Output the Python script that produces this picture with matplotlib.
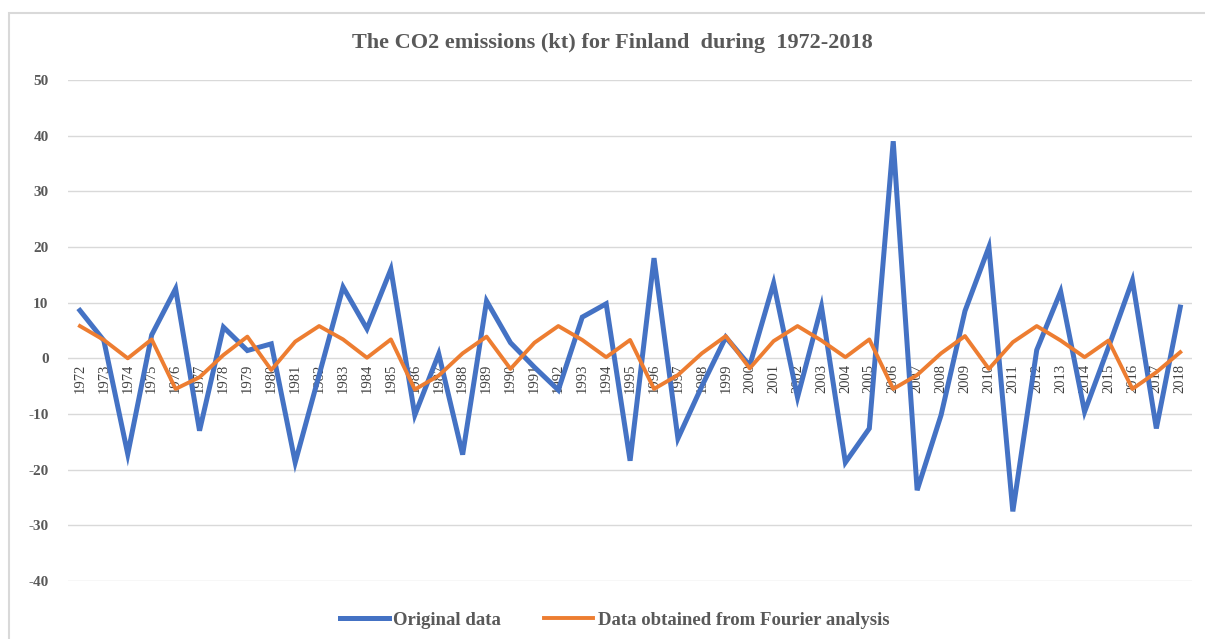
import matplotlib.pyplot as plt
from matplotlib.patches import Rectangle
from matplotlib.transforms import offset_copy

plt.rcParams['font.family'] = ['Liberation Serif', 'DejaVu Serif']
plt.rcParams['axes.unicode_minus'] = False

years = list(range(1972, 2019))

# annual CO2 emission changes (kt)
original = [8.6, 3.2, -17.2, 4.2, 12.5, -13.0, 5.6, 1.4, 2.6, -18.7,
            -3.0, 12.8, 5.3, 16.0, -10.2, 0.8, -17.3, 10.3, 2.8, -1.6,
            -5.7, 7.4, 9.8, -18.4, 18.0, -14.4, -5.0, 3.8, -1.3, 13.5,
            -7.0, 9.3, -18.7, -12.6, 39.0, -23.7, -10.2, 8.5, 20.0, -27.5,
            1.5, 12.0, -9.6, 2.0, 14.0, -12.6, 9.2]

fourier = [5.8, 3.3, 0.0, 3.4, -5.5, -3.4, 0.6, 3.9, -2.1, 3.0,
           5.8, 3.4, 0.1, 3.4, -5.6, -3.1, 0.9, 3.9, -1.9, 2.8,
           5.8, 3.3, 0.2, 3.3, -5.5, -3.0, 0.9, 4.0, -1.8, 3.1,
           5.8, 3.2, 0.2, 3.4, -5.5, -3.0, 0.9, 4.0, -1.9, 2.9,
           5.8, 3.2, 0.2, 3.2, -5.5, -2.5, 1.1]

yticks = list(range(-40, 51, 10))

gray = '#595959'

fig = plt.figure(figsize=(12.05, 6.39), dpi=100)
ax = fig.add_axes([0.0564, 0.0908, 0.933, 0.784])

# outer chart frame
fig.patches.append(Rectangle((9 / 1205, -0.05), 1.1, 1 - 13 / 639 + 0.05,
                             transform=fig.transFigure, fill=False,
                             edgecolor='#d9d9d9', linewidth=1.5))

xs = list(range(len(years)))
ax.plot(xs, original, color='#4472C4', linewidth=3.6, label='Original data',
        solid_joinstyle='miter', zorder=3)
ax.plot(xs, fourier, color='#ED7D31', linewidth=2.8,
        label='Data obtained from Fourier analysis', zorder=4)

ax.set_xlim(-0.5, len(years) - 0.5)
ax.set_ylim(-40, 50)
ax.set_yticks(yticks)
ax.set_xticks([])
ax.grid(axis='y', color='#d9d9d9', linewidth=1.0)
ax.set_axisbelow(True)
for s in ax.spines.values():
    s.set_visible(False)
ax.tick_params(axis='y', length=0, pad=14, labelsize=11, labelcolor=gray)
for t in ax.get_yticklabels():
    t.set_fontweight('bold')

# year labels hang below the zero line
trans = offset_copy(ax.transData, fig=fig, x=0, y=-4, units='points')
for x, yr in zip(xs, years):
    ax.text(x, 0, str(yr), rotation=90, ha='center', va='top',
            fontsize=10.5, color='#404040', transform=trans, zorder=2)

fig.text(0.508, 0.932, 'The CO2 emissions (kt) for Finland  during  1972-2018',
         ha='center', va='center', fontsize=16, fontweight='bold', color=gray)

leg = fig.legend(loc='center', bbox_to_anchor=(0.51, 0.029), ncol=2,
                 frameon=False, handlelength=2.6, handletextpad=0.25,
                 columnspacing=2.3,
                 prop={'size': 13.5, 'weight': 'bold'})
for t in leg.get_texts():
    t.set_color(gray)

fig.savefig('out.png', dpi=100)
